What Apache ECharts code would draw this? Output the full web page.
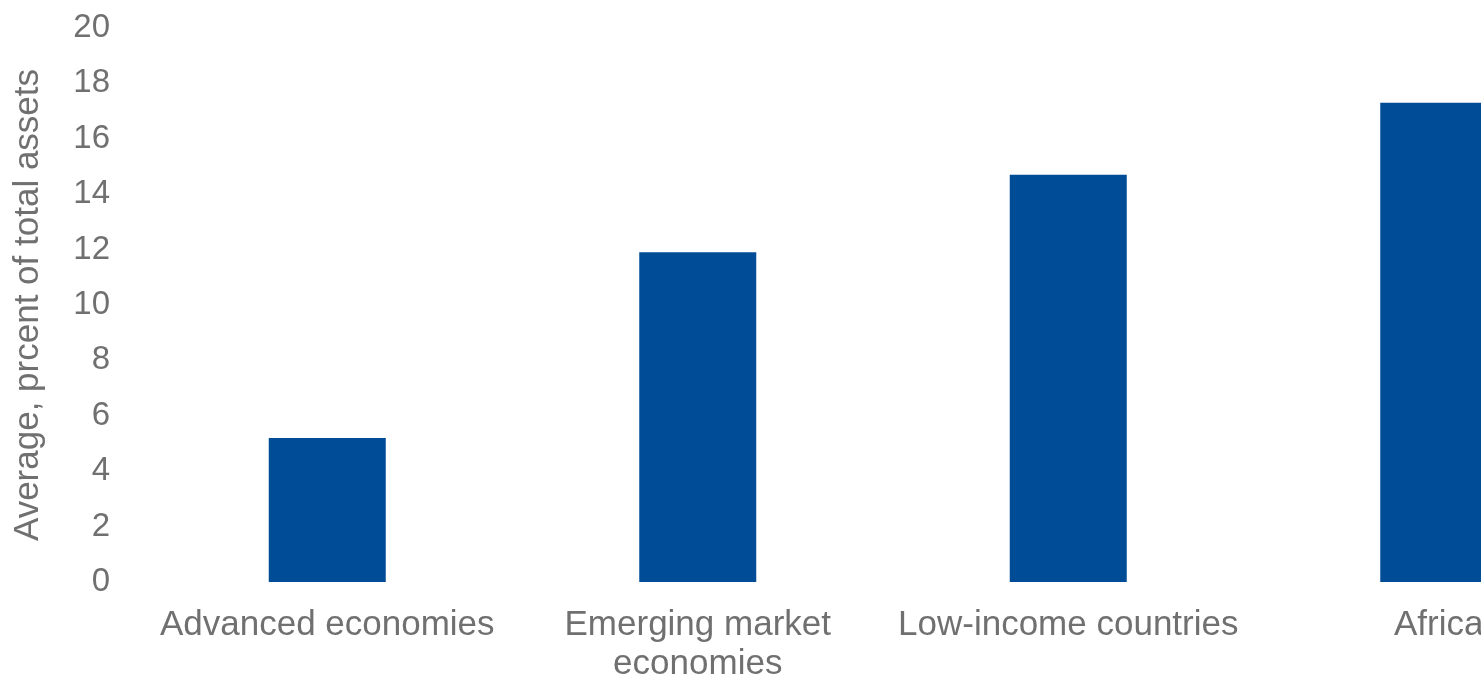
<!DOCTYPE html>
<html>
<head>
<meta charset="utf-8">
<script src="https://cdn.jsdelivr.net/npm/echarts@6/dist/echarts.min.js"></script>
<style>
html,body{margin:0;padding:0;background:#fff;}
#chart{width:1481px;height:681px;}
</style>
</head>
<body>
<div id="chart"></div>
<script>
const categories = ["Advanced economies", "Emerging market\neconomies", "Low-income countries", "Africa"];
const values = [5.2, 11.9, 14.7, 17.3];
const yTicks = {min: 0, max: 20, interval: 2};
const yTitle = "Average, prcent of total assets";

const chart = echarts.init(document.getElementById('chart'), null, {renderer: 'canvas'});
const textColor = '#707070';
const font = 'Liberation Sans, Arial, sans-serif';
chart.setOption({
  animation: false,
  backgroundColor: '#ffffff',
  grid: {left: 142, top: 28, width: 1482, height: 554, containLabel: false, outerBoundsMode: 'none'},
  xAxis: {
    type: 'category',
    data: categories,
    axisLine: {show: false},
    axisTick: {show: false},
    axisLabel: {
      interval: 0, color: textColor, fontFamily: font, fontSize: 35,
      lineHeight: 39, margin: 24
    }
  },
  yAxis: {
    type: 'value',
    min: yTicks.min, max: yTicks.max, interval: yTicks.interval,
    splitLine: {show: false},
    axisLine: {show: false},
    axisTick: {show: false},
    axisLabel: {color: textColor, fontFamily: font, fontSize: 33, margin: 32},
    name: yTitle,
    nameLocation: 'middle',
    nameRotate: 90,
    nameGap: 96,
    nameTextStyle: {color: textColor, fontFamily: font, fontSize: 35}
  },
  series: [{
    type: 'bar',
    data: values,
    barWidth: 117,
    itemStyle: {color: '#004c97'}
  }]
});
</script>
</body>
</html>
